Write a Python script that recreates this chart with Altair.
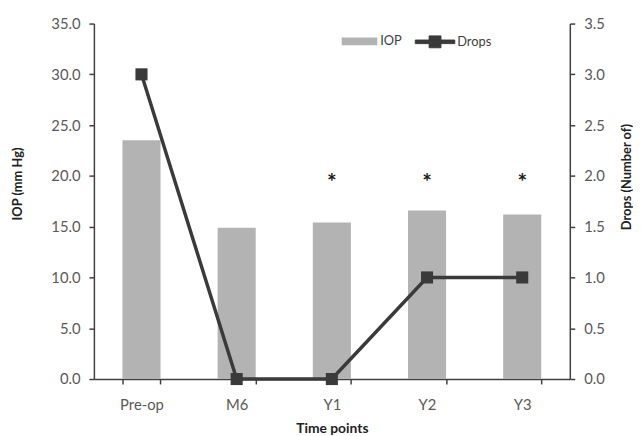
import altair as alt
import pandas as pd

categories = ["Pre-op", "M6", "Y1", "Y2", "Y3"]
iop = [23.5, 14.9, 15.4, 16.6, 16.2]
drops = [3, 0, 0, 1, 1]
significant = [False, False, True, True, True]
star_level = 19.8
iop_ticks = [0, 5, 10, 15, 20, 25, 30, 35]
drops_ticks = [0, 0.5, 1.0, 1.5, 2.0, 2.5, 3.0, 3.5]

df = pd.DataFrame({
    "time": categories,
    "iop": iop,
    "drops": drops,
    "sig": significant,
    "s_iop": ["IOP"] * len(categories),
    "s_drops": ["Drops"] * len(categories),
})
df["star"] = [star_level if s else None for s in significant]

FONT = "Lato"
AX = "#404040"
LAB = "#595959"
BAR = "#b3b3b3"
LINE = "#3a3a3a"

x = alt.X("time:N", sort=categories, title="Time points",
          scale=alt.Scale(paddingInner=0.6, paddingOuter=0.3),
          axis=alt.Axis(labelAngle=0, tickBand="extent", labelPadding=14,
                        titlePadding=9, titleFontSize=14))

rect_path = "M-1,-0.22H1V0.22H-1Z"
drops_path = "M-1,-0.09H1V0.09H-1Z M-0.3,-0.3H0.3V0.3H-0.3Z"

bars = alt.Chart(df).mark_bar().encode(
    x=x,
    y=alt.Y("iop:Q", title="IOP (mm Hg)",
            scale=alt.Scale(domain=[0, 35], nice=False),
            axis=alt.Axis(values=iop_ticks, format=".1f", orient="left",
                          labelPadding=9, titlePadding=27, titleY=162)),
    color=alt.Color("s_iop:N", scale=alt.Scale(range=[BAR]),
                    legend=alt.Legend(title=None, orient="none", legendX=251, legendY=0,
                                      symbolType=rect_path, symbolSize=1296,
                                      symbolStrokeWidth=0, labelOffset=3, padding=0)),
)

stars = alt.Chart(df).transform_filter("datum.sig").mark_text(
    text="*", fontSize=23, fontWeight="bold", color="#1a1a1a", baseline="middle", dy=5, font=FONT
).encode(
    x=x,
    y=alt.Y("star:Q", scale=alt.Scale(domain=[0, 35], nice=False)),
)

left = alt.layer(bars, stars)

line = alt.Chart(df).mark_line(strokeWidth=3.5).encode(
    x=x,
    y=alt.Y("drops:Q", title="Drops (Number of)",
            scale=alt.Scale(domain=[0, 3.5], nice=False),
            axis=alt.Axis(values=drops_ticks, format=".1f", orient="right",
                          labelPadding=9, titlePadding=17, titleAngle=270,
                          titleBaseline="top", titleY=155)),
    stroke=alt.Stroke("s_drops:N", scale=alt.Scale(range=[LINE]),
                      legend=alt.Legend(title=None, orient="none", legendX=325, legendY=-2,
                                        symbolType=drops_path, symbolSize=1600,
                                        symbolFillColor=LINE, symbolStrokeWidth=1,
                                        labelOffset=2, padding=0)),
)

squares = alt.Chart(df).mark_square(size=150, color=LINE, opacity=1, filled=True).encode(
    x=x,
    y=alt.Y("drops:Q", scale=alt.Scale(domain=[0, 3.5], nice=False)),
)

right = alt.layer(line, squares)

chart = alt.layer(left, right).resolve_scale(y="independent").properties(
    width=482, height=360,
    autosize=alt.AutoSizeParams(type="none"),
    padding={"left": 87, "top": 13, "right": 64, "bottom": 60},
).configure_axis(
    grid=False, domainColor=AX, domainWidth=1.5, tickColor=AX, tickWidth=1.5, tickSize=5,
    labelColor=LAB, labelFont=FONT, labelFontSize=15,
    titleColor="#222222", titleFont=FONT, titleFontSize=13, titleFontWeight="bold",
).configure_legend(
    labelFont=FONT, labelFontSize=13, labelColor=AX,
).configure_view(stroke=None)

chart.save("out.html", embed_options={"renderer": "svg", "actions": False})
